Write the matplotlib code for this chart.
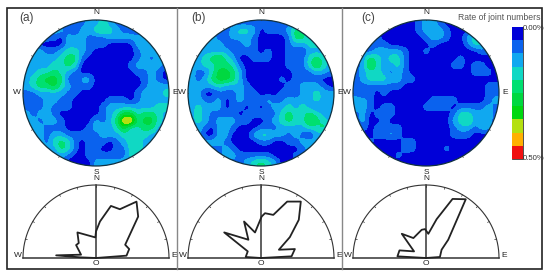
#!/usr/bin/env python3
"""Stereonet contour panels with rose diagrams below and a shared colour bar."""

import matplotlib
matplotlib.use("Agg")
import matplotlib.pyplot as plt
import numpy as np
from matplotlib.patches import Circle, Rectangle

plt.rcParams["font.family"] = ["Liberation Sans", "DejaVu Sans"]

# contour class of each cell, north row first
density_a = [
    "111111111223211000000", "222222102234321100000", "222110222111222222111",
    "220000222111000022211", "222112332100000012222", "222223441000000012122",
    "222233430000000122221", "223343210000000011210", "234554102200000001210",
    "234453211100000001222", "112222110000000012223", "111221100000111012222",
    "111211100001222222233", "212210000001235534432", "221221000021248845532",
    "222111000122235334422", "222122111112223333222", "222134310111012332222",
    "222224310110011342222", "111112100111111322222", "000011000022222211111",
]
density_b = [
    "000001111111111100000", "111111233201112442110", "111211222100001442211",
    "112221012100001223321", "112222111101001102222", "223453200111001113432",
    "223344310000001113532", "211355420000000111221", "212455420000010111100",
    "222232221000001122210", "220011121100011022322", "221120121112112222322",
    "232220110101223232122", "232111101111134334322", "232122211001234335432",
    "221022100011122223343", "220022000233221210222", "222221000011001122222",
    "111112100000000012111", "111112211111000111111", "111111112343200000000",
]
density_c = [
    "000000000122100000000", "000000000122210000000", "000100000012210023100",
    "001110000001000013310", "011222210010000000110", "024323310000000100000",
    "125322310000001101100", "123321210000000001110", "123332211000000000000",
    "111111100000000000011", "101010000000000000011", "221000000001111000012",
    "221011000011110111121", "120111000000001332221", "120010000000002342221",
    "010111100000001221220", "000112100000001110000", "001000011000000000000",
    "000000011000010000000", "000000100000000000000", "000000000000000000000",
]

# rose outlines: bearing from north (degrees), radius as a share of the arc
rose_bearing_a = [90, 85.6, 74.9, 65.6, 45.5, 35.7, 26.1, 16, 6.2, 0, -1.8, -36, -49, -57, -77.5, -86.2, -87.6, -90]
rose_radius_a = [0, .419, .471, .439, .81, .951, .744, .742, .503, .364, .282, .433, .313, .325, .21, .547, .218, 0]
rose_bearing_b = [90, 86.9, 75.2, 65.2, 54.1, 44.7, 35.2, 24.9, 15.9, 5.1, 0.9, -13.2, -24.9, -34.6, -55.2, -63.4, -86.3, -90]
rose_radius_b = [0, .419, .48, .27, .488, .736, .946, .852, .614, .616, .568, .359, .551, .304, .614, .203, .21, 0]
rose_bearing_c = [90, 85.9, 62, 50.6, 34.1, 24.2, 15.3, 5.5, -2, -8.7, -32.3, -45, -61, -74, -86.7, -90]
rose_radius_c = [0, .191, .242, .394, .972, .887, .551, .333, .396, .391, .323, .469, .187, .378, .392, 0]

panel_labels = ["(a)", "(b)", "(c)"]
class_colors = ["#0000d8", "#0a62ee", "#10a8f0", "#10d8c4", "#00e070",
                "#00d840", "#00d810", "#b4e010", "#ffb000", "#f01010"]
bar_labels = ["0.00%", "0.50%"]
bar_title = "Rate of joint numbers"

WIDTH, HEIGHT = 550, 277
DARK = "#333333"
SUBCELLS = 5


def pixel_axes(figure, left, top, width, height):
    rect = [left / WIDTH, 1 - (top + height) / HEIGHT, width / WIDTH, height / HEIGHT]
    axis = figure.add_axes(rect)
    axis.set_axis_off()
    return axis


def soften(grid):
    """Refine the class grid and round its corners so contours look blobby."""
    fine = np.repeat(np.repeat(grid, SUBCELLS, axis=0), SUBCELLS, axis=1)
    kernel = np.ones(SUBCELLS) / SUBCELLS
    for _ in range(2):
        for dim in (0, 1):
            padded = np.pad(fine, [(SUBCELLS, SUBCELLS) if d == dim else (0, 0) for d in (0, 1)], mode="edge")
            fine = np.apply_along_axis(lambda v: np.convolve(v, kernel, mode="same"), dim, padded)
            fine = fine[SUBCELLS:-SUBCELLS] if dim == 0 else fine[:, SUBCELLS:-SUBCELLS]
    return fine


def draw_ticks(axis, bearings, inner=0.975):
    for bearing in np.radians(bearings):
        sx, cy = np.sin(bearing), np.cos(bearing)
        axis.plot([inner * sx, sx], [inner * cy, cy], color=DARK, linewidth=0.5)


def draw_net(figure, center_x, rows):
    radius = 73
    axis = pixel_axes(figure, center_x - radius, 93 - radius, 2 * radius, 2 * radius)
    axis.set_xlim(-1, 1)
    axis.set_ylim(-1, 1)

    grid = np.array([[int(c) for c in row] for row in rows], dtype=float)[::-1]
    grid = soften(np.pad(grid, 1, mode="edge"))
    coords = (np.arange(grid.shape[0]) + 0.5) / SUBCELLS - 11.5
    coords = coords / 10.5
    levels = np.arange(-0.5, len(class_colors) + 0.5)
    filled = axis.contourf(coords, coords, grid, levels=levels, colors=class_colors)
    filled.set_clip_path(Circle((0, 0), 1, transform=axis.transData))

    axis.add_patch(Circle((0, 0), 1, fill=False, edgecolor="#103040", linewidth=0.9, clip_on=False))
    draw_ticks(axis, np.arange(0, 360, 30), inner=1.02)
    for label, x, y in [("N", 0, 1.1), ("S", 0, -1.085), ("W", -1.09, 0), ("E", 1.09, 0)]:
        axis.text(x, y, label, ha="center", va="center", fontsize=6, color="#222222")


def draw_rose(figure, center_x, bearings, radii):
    radius = 73
    axis = pixel_axes(figure, center_x - radius, 258 - radius, 2 * radius, radius)
    axis.set_xlim(-1, 1)
    axis.set_ylim(0, 1)

    arc = np.radians(np.linspace(-90, 90, 181))
    axis.plot(np.sin(arc), np.cos(arc), color=DARK, linewidth=0.8, clip_on=False)
    axis.plot([-1, 1], [0, 0], color=DARK, linewidth=1.1, clip_on=False)
    axis.plot([0, 0], [0, 1], color="#444444", linewidth=1.2, clip_on=False)
    draw_ticks(axis, np.arange(-90, 91, 15))

    angle = np.radians(bearings)
    r = np.array(radii)
    axis.plot(r * np.sin(angle), r * np.cos(angle), color="#222222", linewidth=1.3, clip_on=False)

    for label, x, y in [("N", 0, 1.09), ("O", 0, -0.07), ("W", -1.07, 0.03), ("E", 1.07, 0.03)]:
        axis.text(x, y, label, ha="center", va="center", fontsize=6, color="#222222")


def main():
    figure = plt.figure(figsize=(WIDTH / 100, HEIGHT / 100), dpi=100, facecolor="white")

    overlay = pixel_axes(figure, 0, 0, WIDTH, HEIGHT)
    overlay.set_xlim(0, WIDTH)
    overlay.set_ylim(HEIGHT, 0)
    overlay.add_patch(Rectangle((7, 8), 535, 261, fill=False, edgecolor="#222222", linewidth=1.2))
    for x in (177, 342):
        overlay.plot([x, x], [8, 269], color="#888888", linewidth=1.0)

    centers = [96, 261, 426]
    roses = [
        (rose_bearing_a, rose_radius_a),
        (rose_bearing_b, rose_radius_b),
        (rose_bearing_c, rose_radius_c),
    ]
    nets = [density_a, density_b, density_c]
    label_x = [27, 199, 368]
    for center_x, rows, (bearings, radii), label, x in zip(centers, nets, roses, panel_labels, label_x):
        draw_net(figure, center_x, rows)
        draw_rose(figure, center_x, bearings, radii)
        overlay.text(x, 18.5, label, ha="center", va="center", fontsize=8.5, color="#444444")

    bar = pixel_axes(figure, 512, 27, 11, 132)
    bar.imshow(
        np.arange(len(class_colors)).reshape(-1, 1),
        cmap=matplotlib.colors.ListedColormap(class_colors),
        aspect="auto",
    )
    overlay.add_patch(Rectangle((512, 27), 11, 132, fill=False, edgecolor="#333333", linewidth=0.6))
    overlay.text(541, 17, bar_title, ha="right", va="center", fontsize=6.2, color="#555555")
    overlay.text(523, 28, bar_labels[0], ha="left", va="center", fontsize=5.6, color="#333333")
    overlay.text(523, 158, bar_labels[1], ha="left", va="center", fontsize=5.6, color="#333333")

    figure.savefig("out.png", dpi=100)
    plt.close(figure)


if __name__ == "__main__":
    main()
